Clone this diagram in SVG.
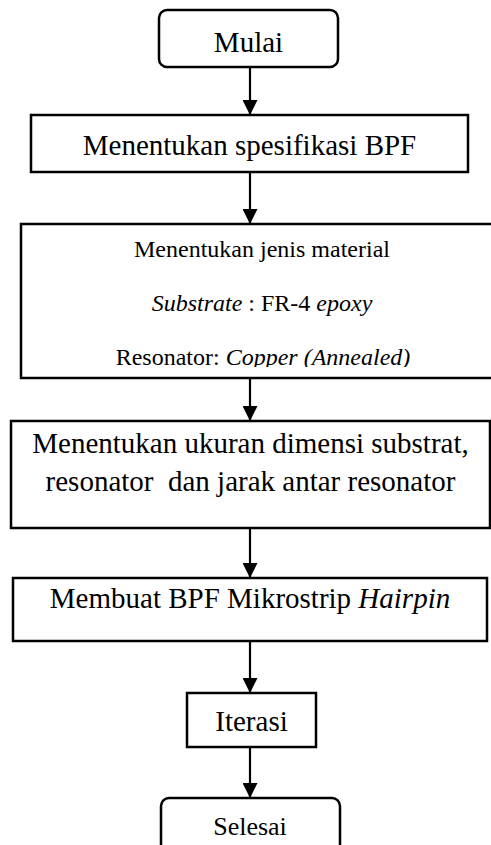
<svg xmlns="http://www.w3.org/2000/svg" width="491" height="845" viewBox="0 0 491 845">
<style>
.box{fill:#fff;stroke:#000;stroke-width:2.5}
text{font-family:"Liberation Serif","DejaVu Serif",serif;fill:#000;text-anchor:middle}
.big{font-size:29px}
.mid{font-size:24px}
.conn line{stroke:#000;stroke-width:2.2}
</style>
<defs>
<marker id="ah" markerUnits="userSpaceOnUse" markerWidth="15" markerHeight="15" refX="15" refY="7.5" orient="auto">
<path d="M0,0 L15,7.5 L0,15 z" fill="#000"/>
</marker>
<clipPath id="c3"><rect x="21" y="224" width="482" height="143"/></clipPath>
</defs>
<rect width="491" height="845" fill="#fff"/>
<g class="conn">
<line x1="250" y1="67" x2="250" y2="115" marker-end="url(#ah)"/>
<line x1="250" y1="172" x2="250" y2="224" marker-end="url(#ah)"/>
<line x1="250" y1="378" x2="250" y2="421" marker-end="url(#ah)"/>
<line x1="250" y1="528" x2="250" y2="578" marker-end="url(#ah)"/>
<line x1="250" y1="641" x2="250" y2="693" marker-end="url(#ah)"/>
<line x1="250" y1="747" x2="250" y2="798" marker-end="url(#ah)"/>
</g>
<g id="mulai">
<rect class="box" x="159" y="10" width="179" height="57" rx="8"/>
<text class="big" x="248.5" y="52">Mulai</text>
</g>
<g id="spesifikasi">
<rect class="box" x="31" y="115" width="437" height="57"/>
<text class="big" x="249.5" y="155">Menentukan spesifikasi BPF</text>
</g>
<g id="material">
<rect class="box" x="21" y="224" width="482" height="154"/>
<g clip-path="url(#c3)">
<text class="mid" x="262" y="257">Menentukan jenis material</text>
<text class="mid" x="262" y="311"><tspan font-style="italic">Substrate</tspan> : FR-4 <tspan font-style="italic">epoxy</tspan></text>
<text class="mid" x="263" y="365">Resonator: <tspan font-style="italic">Copper (Annealed)</tspan></text>
</g>
</g>
<g id="ukuran">
<rect class="box" x="11" y="421" width="479" height="107"/>
<text class="big" x="250.5" y="453">Menentukan ukuran dimensi substrat,</text>
<text class="big" x="250.5" y="491" xml:space="preserve">resonator  dan jarak antar resonator</text>
</g>
<g id="membuat">
<rect class="box" x="13" y="578" width="474" height="63"/>
<text class="big" x="250" y="608">Membuat BPF Mikrostrip <tspan font-style="italic">Hairpin</tspan></text>
</g>
<g id="iterasi">
<rect class="box" x="187" y="693" width="129" height="54"/>
<text class="big" x="251.5" y="731">Iterasi</text>
</g>
<g id="selesai">
<rect class="box" x="161" y="798" width="179" height="60" rx="8"/>
<text font-size="26" x="250" y="835">Selesai</text>
</g>
</svg>
